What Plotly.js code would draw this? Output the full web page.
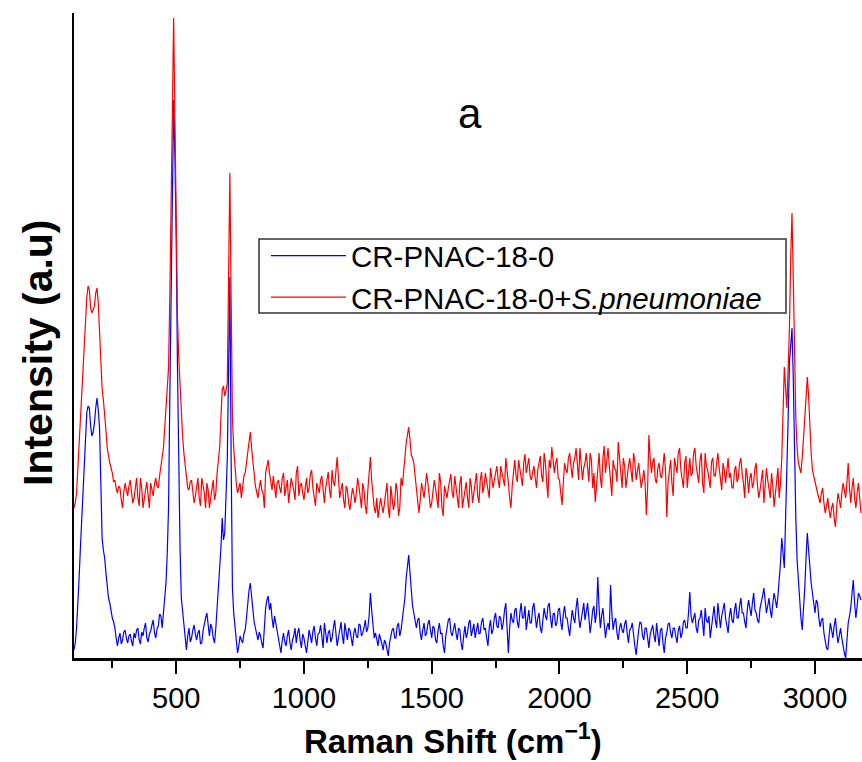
<!DOCTYPE html>
<html>
<head>
<meta charset="utf-8">
<script src="https://cdn.plot.ly/plotly-3.0.1.min.js"></script>
<style>html,body{margin:0;padding:0;background:#fff;}#chart{width:862px;height:762px;}</style>
</head>
<body>
<div id="chart"></div>
<script>
// Raman shift grid (cm^-1)
const ramanShift = [
100,105,110,115,120,125,130,135,140,145,150,155,160,165,170,175,180,185,190,195,
200,205,210,215,220,225,230,235,240,245,250,255,260,265,270,275,280,285,290,295,
300,305,310,315,320,325,330,335,340,345,350,355,360,365,370,375,380,385,390,395,
400,405,410,415,420,425,430,435,440,445,450,455,460,465,470,475,480,485,490,495,
500,505,510,515,520,525,530,535,540,545,550,555,560,565,570,575,580,585,590,595,
600,605,610,615,620,625,630,635,640,645,650,655,660,665,670,675,680,685,690,695,
700,705,710,715,720,725,730,735,740,745,750,755,760,765,770,775,780,785,790,795,
800,805,810,815,820,825,830,835,840,845,850,855,860,865,870,875,880,885,890,895,
900,905,910,915,920,925,930,935,940,945,950,955,960,965,970,975,980,985,990,995,
1000,1005,1010,1015,1020,1025,1030,1035,1040,1045,1050,1055,1060,1065,1070,1075,1080,1085,1090,1095,
1100,1105,1110,1115,1120,1125,1130,1135,1140,1145,1150,1155,1160,1165,1170,1175,1180,1185,1190,1195,
1200,1205,1210,1215,1220,1225,1230,1235,1240,1245,1250,1255,1260,1265,1270,1275,1280,1285,1290,1295,
1300,1305,1310,1315,1320,1325,1330,1335,1340,1345,1350,1355,1360,1365,1370,1375,1380,1385,1390,1395,
1400,1405,1410,1415,1420,1425,1430,1435,1440,1445,1450,1455,1460,1465,1470,1475,1480,1485,1490,1495,
1500,1505,1510,1515,1520,1525,1530,1535,1540,1545,1550,1555,1560,1565,1570,1575,1580,1585,1590,1595,
1600,1605,1610,1615,1620,1625,1630,1635,1640,1645,1650,1655,1660,1665,1670,1675,1680,1685,1690,1695,
1700,1705,1710,1715,1720,1725,1730,1735,1740,1745,1750,1755,1760,1765,1770,1775,1780,1785,1790,1795,
1800,1805,1810,1815,1820,1825,1830,1835,1840,1845,1850,1855,1860,1865,1870,1875,1880,1885,1890,1895,
1900,1905,1910,1915,1920,1925,1930,1935,1940,1945,1950,1955,1960,1965,1970,1975,1980,1985,1990,1995,
2000,2005,2010,2015,2020,2025,2030,2035,2040,2045,2050,2055,2060,2065,2070,2075,2080,2085,2090,2095,
2100,2105,2110,2115,2120,2125,2130,2135,2140,2145,2150,2155,2160,2165,2170,2175,2180,2185,2190,2195,
2200,2205,2210,2215,2220,2225,2230,2235,2240,2245,2250,2255,2260,2265,2270,2275,2280,2285,2290,2295,
2300,2305,2310,2315,2320,2325,2330,2335,2340,2345,2350,2355,2360,2365,2370,2375,2380,2385,2390,2395,
2400,2405,2410,2415,2420,2425,2430,2435,2440,2445,2450,2455,2460,2465,2470,2475,2480,2485,2490,2495,
2500,2505,2510,2515,2520,2525,2530,2535,2540,2545,2550,2555,2560,2565,2570,2575,2580,2585,2590,2595,
2600,2605,2610,2615,2620,2625,2630,2635,2640,2645,2650,2655,2660,2665,2670,2675,2680,2685,2690,2695,
2700,2705,2710,2715,2720,2725,2730,2735,2740,2745,2750,2755,2760,2765,2770,2775,2780,2785,2790,2795,
2800,2805,2810,2815,2820,2825,2830,2835,2840,2845,2850,2855,2860,2865,2870,2875,2880,2885,2890,2895,
2900,2905,2910,2915,2920,2925,2930,2935,2940,2945,2950,2955,2960,2965,2970,2975,2980,2985,2990,2995,
3000,3005,3010,3015,3020,3025,3030,3035,3040,3045,3050,3055,3060,3065,3070,3075,3080,3085,3090,3095,
3100,3105,3110,3115,3120,3125,3130,3135,3140,3145,3150,3155,3160,3165,3170,3175,3180];

// CR-PNAC-18-0 (blue), intensity a.u.
const intensityBlue = [
8,15,30,52,80,110,140,172,200,228,245,252,250,232,222,226,235,250,260,248,
230,175,120,108,100,85,68,60,55,47,40,36,30,20,12,20,25,14,18,26,
28,20,15,22,24,17,12,25,20,28,30,18,14,26,22,30,35,20,16,24,
27,33,38,25,20,29,32,44,42,30,48,60,75,105,150,260,380,480,558,500,
420,290,170,110,60,45,38,20,8,22,30,16,20,28,33,24,18,25,28,14,
15,27,35,40,45,30,22,34,30,20,15,30,50,62,80,110,140,118,125,160,
200,290,381,200,70,45,30,15,5,12,22,18,15,24,28,40,55,68,75,60,
45,36,30,24,18,26,22,15,10,30,50,58,62,48,55,40,30,42,35,25,
20,12,5,18,25,16,12,22,28,15,8,18,22,30,15,25,30,18,10,24,
20,12,5,16,28,22,15,27,32,20,12,24,25,33,18,10,35,22,15,25,
28,16,20,30,38,25,12,20,30,36,22,14,35,25,18,30,28,20,12,25,
30,22,20,34,33,22,25,30,38,26,30,42,65,48,35,20,25,18,12,24,
20,14,8,18,15,10,2,15,22,28,30,20,20,32,35,22,28,38,45,60,
80,95,103,85,68,52,45,35,30,38,40,25,18,28,35,22,25,34,38,28,
20,32,30,18,15,28,35,24,25,12,5,22,30,38,40,26,22,30,35,25,
18,30,28,15,8,22,32,20,25,35,38,22,28,34,20,30,35,24,25,36,
40,28,30,20,12,30,38,24,28,40,45,32,30,42,40,28,35,48,55,30,
5,30,45,38,35,48,50,36,30,45,55,40,40,52,28,38,48,35,35,50,
55,42,30,40,45,30,25,38,50,42,38,52,55,40,30,44,45,32,35,48,
50,36,28,44,52,40,40,30,22,36,48,40,35,50,60,42,30,38,45,55,
38,46,55,40,25,35,48,52,35,45,81,50,30,42,50,35,20,30,35,28,
73,45,28,36,40,25,18,30,35,28,25,34,38,25,15,28,30,35,20,12,
3,20,28,36,35,22,18,30,30,20,10,24,28,33,22,16,35,24,12,28,
30,15,5,20,25,34,35,25,20,30,30,22,15,28,32,20,25,36,38,30,
30,45,66,42,35,40,45,30,25,38,40,48,30,22,50,38,35,42,20,30,
45,52,38,30,55,45,30,42,48,55,40,32,25,42,50,38,35,48,55,40,
40,52,60,45,45,36,30,48,58,50,42,55,65,48,45,38,35,50,55,62,
70,55,45,52,60,48,40,55,65,58,50,62,75,95,120,100,90,140,180,240,
295,318,330,280,200,140,98,75,60,40,28,45,70,100,125,108,90,75,65,52,
45,58,55,40,31,38,40,25,15,10,8,22,35,28,20,32,40,25,15,22,
30,20,10,5,0,18,35,42,50,65,78,55,40,52,65,62,58];

// CR-PNAC-18-0 + S.pneumoniae (red), intensity a.u.
const intensityRed = [
150,155,165,190,215,240,265,295,320,345,360,372,368,350,345,348,352,365,370,355,
325,300,270,258,245,228,210,200,195,190,185,176,178,170,165,172,170,158,150,166,
175,168,162,172,178,166,155,160,172,180,160,152,180,170,150,162,168,176,158,150,
175,166,162,174,180,172,170,182,192,198,210,230,250,270,290,360,450,560,640,540,
400,340,300,270,240,222,205,195,185,170,168,176,178,166,155,162,172,180,160,152,
180,172,165,150,175,168,150,160,170,178,158,165,185,196,210,240,268,272,262,268,
275,380,485,360,241,210,188,175,165,172,175,160,170,182,185,196,205,218,226,210,
195,180,172,166,160,170,178,168,165,150,185,192,198,185,175,168,182,172,160,175,
178,170,165,180,185,162,170,178,155,165,180,174,168,158,185,192,162,172,175,165,
158,170,180,165,170,184,188,170,160,152,175,168,165,178,182,168,155,170,178,186,
168,160,188,176,172,185,201,180,160,168,175,158,150,172,168,155,148,160,170,164,
155,165,180,172,160,150,175,168,152,144,168,182,201,178,165,150,145,160,140,150,
160,152,145,155,168,175,150,140,172,160,148,155,175,168,142,150,180,172,190,200,
215,225,231,218,203,200,195,182,170,160,145,158,175,168,160,172,185,175,165,150,
155,168,178,170,162,150,185,176,150,142,172,165,160,170,178,184,165,160,182,170,
158,150,175,182,150,160,168,176,160,150,180,172,155,165,170,185,162,155,178,186,
165,172,185,176,172,160,190,182,170,178,185,192,178,170,192,185,180,172,200,190,
175,160,150,172,190,198,182,176,198,190,180,172,195,204,185,192,200,182,178,186,
192,180,170,188,195,202,182,176,205,195,175,160,198,190,211,200,185,195,200,180,
178,165,153,175,195,188,185,200,205,192,180,195,200,210,188,178,210,196,178,190,
195,205,185,176,205,198,170,185,156,172,195,205,180,170,200,212,185,196,210,192,
175,162,198,190,188,176,216,200,180,170,200,192,170,185,192,200,185,176,205,196,
178,190,195,182,170,178,188,176,143,170,223,200,185,196,200,178,175,190,195,182,
180,192,205,188,141,175,190,198,175,162,200,190,185,205,210,188,178,170,195,202,
170,188,200,182,185,205,210,192,180,175,198,205,175,165,205,192,188,176,170,196,
200,182,182,195,205,190,178,168,195,188,175,190,200,180,185,170,170,188,192,176,
180,195,200,184,175,160,190,182,165,180,185,170,175,190,195,172,160,168,180,188,
155,170,190,178,170,160,185,172,151,165,175,190,160,175,200,240,291,270,250,290,
330,400,445,380,290,240,210,195,190,185,200,225,240,260,281,262,230,205,188,182,
175,168,165,160,155,165,170,155,145,152,160,148,140,150,155,140,131,150,165,158,
150,165,175,168,160,175,195,170,155,170,180,160,150,165,175,160,145];

const seriesNames = ['CR-PNAC-18-0', 'CR-PNAC-18-0+<i>S.pneumoniae</i>'];
const seriesColors = ['#0000ff', '#ff0000'];
const xTickVals = [500, 1000, 1500, 2000, 2500, 3000];
const xTickText = ['500', '1000', '1500', '2000', '2500', '3000'];

const FONT = 'Liberation Sans, Arial, sans-serif';
const L = 74, R = 862, T = 13, B = 658;
const px2x = p => (p - L) / (R - L);
const px2y = p => (B - p) / (B - T);

const traces = [
  {x: ramanShift, y: intensityBlue, name: seriesNames[0], type: 'scatter', mode: 'lines',
   line: {color: seriesColors[0], width: 1.2}},
  {x: ramanShift, y: intensityRed, name: seriesNames[1], type: 'scatter', mode: 'lines',
   line: {color: seriesColors[1], width: 1.2}}
];

const layout = {
  width: 862, height: 762,
  margin: {l: L, r: 862 - R, t: T, b: 762 - B},
  paper_bgcolor: '#fff', plot_bgcolor: '#fff',
  font: {family: FONT, color: '#000'},
  showlegend: true,
  legend: {
    x: px2x(266), y: px2y(230), xanchor: 'left', yanchor: 'top',
    bgcolor: 'rgba(0,0,0,0)', borderwidth: 0,
    font: {family: FONT, size: 29.5, color: '#000'},
    itemwidth: 75, tracegroupgap: 0
  },
  shapes: [
    {type: 'rect', xref: 'paper', yref: 'paper', layer: 'below',
     x0: px2x(259), x1: px2x(786), y0: px2y(313), y1: px2y(239),
     line: {color: '#333', width: 1.5}, fillcolor: '#fff'}
  ],
  xaxis: {
    range: [100, 3184], showgrid: false, zeroline: false,
    showline: true, linecolor: '#000', linewidth: 2.5,
    tickmode: 'array', tickvals: xTickVals, ticktext: xTickText,
    ticks: 'outside', ticklen: 13, tickwidth: 2, tickcolor: '#000',
    tickfont: {family: FONT, size: 29, color: '#000'},
    minor: {dtick: 250, tick0: 0, ticks: 'outside', ticklen: 7, tickwidth: 2, tickcolor: '#000', showgrid: false}
  },
  yaxis: {
    range: [0, 645], showgrid: false, zeroline: false,
    showline: true, linecolor: '#000', linewidth: 2.5,
    ticks: '', showticklabels: false
  },
  annotations: [
    {text: 'a', xref: 'paper', yref: 'paper', x: px2x(470), y: px2y(113),
     showarrow: false, font: {family: FONT, size: 42, color: '#000'}, xanchor: 'center', yanchor: 'middle'},
    {text: '<b>Raman Shift (cm<sup>−1</sup>)</b>', xref: 'paper', yref: 'paper', x: px2x(453), y: px2y(739),
     showarrow: false, font: {family: FONT, size: 33, color: '#000'}, xanchor: 'center', yanchor: 'middle'},
    {text: '<b>Intensity (a.u)</b>', xref: 'paper', yref: 'paper', x: px2x(38), y: px2y(353), textangle: -90,
     showarrow: false, font: {family: FONT, size: 41, color: '#000'}, xanchor: 'center', yanchor: 'middle'}
  ]
};

Plotly.newPlot('chart', traces, layout, {displayModeBar: false, staticPlot: true});
</script>
</body>
</html>
